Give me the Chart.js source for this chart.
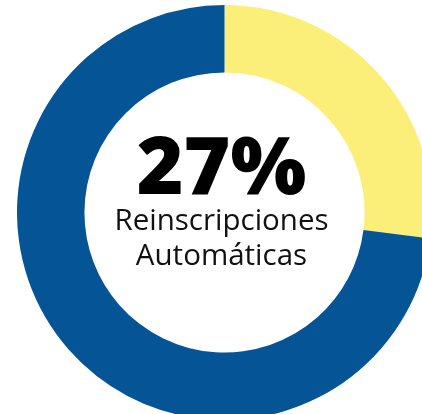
<!DOCTYPE html>
<html>
<head>
<meta charset="utf-8">
<script src="https://cdn.jsdelivr.net/npm/chart.js@4"></script>
<style>
html,body{margin:0;padding:0;background:#fff;overflow:hidden;width:422px;height:414px;}
#wrap{position:absolute;left:17px;top:5px;width:415px;height:415px;}
</style>
</head>
<body>
<div id="wrap"><canvas id="c" width="415" height="415"></canvas></div>
<script>
const categories = ["Reinscripciones Automáticas", "Otras"];
const values = [27, 73];
const colors = ["#FBEF7A", "#055596"];
const centerValue = "27%";
const centerLines = ["Reinscripciones", "Automáticas"];

const centerText = {
  id: 'centerText',
  afterDraw(chart) {
    const meta = chart.getDatasetMeta(0);
    const arc = meta.data[0];
    const cx = arc.x, cy = arc.y;
    const ctx = chart.ctx;
    ctx.save();
    ctx.textAlign = 'center';
    ctx.textBaseline = 'alphabetic';
    ctx.fillStyle = '#000';
    ctx.font = '800 80px "Open Sans"';
    ctx.fillText(centerValue, cx - 3, cy - 19);
    ctx.fillStyle = '#111';
    ctx.font = '400 29.5px "Open Sans"';
    ctx.fillText(centerLines[0], cx - 3, cy + 17);
    ctx.fillText(centerLines[1], cx - 3, cy + 52);
    ctx.restore();
  }
};

new Chart(document.getElementById('c'), {
  type: 'doughnut',
  data: {
    labels: categories,
    datasets: [{
      data: values,
      backgroundColor: colors,
      borderWidth: 0,
      hoverOffset: 0
    }]
  },
  options: {
    responsive: false,
    animation: false,
    cutout: '67.5%',
    layout: {padding: 0},
    plugins: {legend: {display: false}, tooltip: {enabled: false}}
  },
  plugins: [centerText]
});
</script>
</body>
</html>
